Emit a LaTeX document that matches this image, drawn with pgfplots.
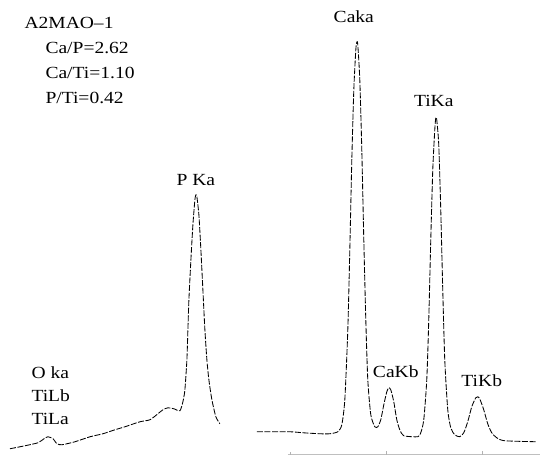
\documentclass[border=0pt]{standalone}
\usepackage{pgfplots}
\pgfplotsset{compat=1.18}
\usepackage{fontspec}
\setmainfont{Liberation Serif}[FakeStretch=1.15]
\begin{document}
\begin{tikzpicture}[font=\fontsize{17}{20}\selectfont]
\begin{axis}[x=1pt,y=1pt,xmin=0,xmax=540,ymin=0,ymax=457,hide axis,clip=false,
  y dir=reverse,
  spec/.style={black,line width=0.85pt,dash pattern=on 6pt off 1.6pt,smooth,tension=0.4}]
\addplot[draw=none] coordinates {(0,0) (540,457)};
% left part + P Ka
\addplot[spec] coordinates {
(10,449)(25,446)(38,443)(44,439)(48,437)(53,439)(57,444)(62,445)(75,442)(90,437)
(103,434)(115,430)(125,427)(140,422)(150,420)(158,414)(163,410)(168,408)(174,409)(180,411)
(183,402)(185,390)(187,360)(188,330)(189,300)(191,260)(193,225)(195,200)(196,195)(197,197)
(199,215)(201,250)(203,290)(205,330)(207,360)(209,380)(212,400)(216,417)(220,424)};
% right part
\addplot[spec] coordinates {
(257,432)(290,432)(303,433)(320,434)(330,434)(338,432)(342,425)(345,400)(348,330)(350,250)
(352,160)(354,90)(356,50)(357,42)(358,45)(360,80)(362,150)(364,240)(366,320)(368,380)
(371,415)(375,427)(378,427)(381,420)(384,405)(387,392)(389,388)(391,390)(394,402)(397,420)
(400,430)(404,436)(418,437)(421,433)(424,420)(427,380)(429,320)(431,240)(433,170)(435,130)
(436,118)(437,120)(439,145)(441,210)(443,290)(445,360)(448,410)(451,428)(455,435)(460,437)
(464,433)(468,422)(472,407)(476,398)(478,397)(480,399)(484,410)(488,424)(492,433)(497,438)
(505,441)(537,442)};
% faint baseline axis
\addplot[gray!50,line width=0.6pt] coordinates {(288,455)(540,455)};
\addplot[gray!60,line width=0.6pt] coordinates {(290,455)(290,452)};
\addplot[gray!60,line width=0.6pt] coordinates {(387,455)(387,451)};
\addplot[gray!60,line width=0.6pt] coordinates {(483,455)(483,451)};
% labels
\node[anchor=west] at (axis cs:21,23) {A2MAO--1};
\node[anchor=west] at (axis cs:42,48) {Ca/P=2.62};
\node[anchor=west] at (axis cs:42,73) {Ca/Ti=1.10};
\node[anchor=west] at (axis cs:42,98) {P/Ti=0.42};
\node at (axis cs:196,180) {P Ka};
\node at (axis cs:354,17) {Caka};
\node at (axis cs:434,101) {TiKa};
\node at (axis cs:396,372) {CaKb};
\node at (axis cs:482,381) {TiKb};
\node[anchor=west] at (axis cs:28,373) {O ka};
\node[anchor=west] at (axis cs:28,396) {TiLb};
\node[anchor=west] at (axis cs:28,419) {TiLa};
\end{axis}
\end{tikzpicture}
\end{document}
